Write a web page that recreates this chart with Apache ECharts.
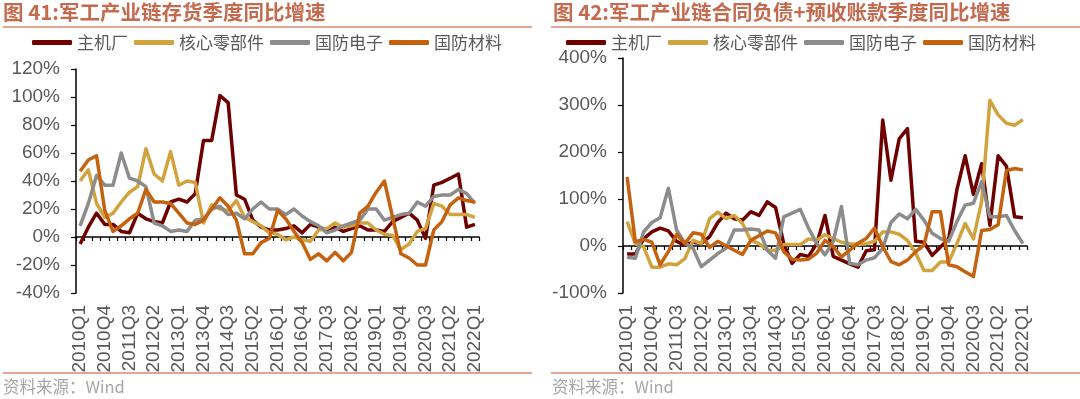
<!DOCTYPE html>
<html>
<head>
<meta charset="utf-8">
<script src="https://cdn.jsdelivr.net/npm/echarts@6/dist/echarts.min.js"></script>
<style>
html,body{margin:0;padding:0;background:#fff;}
#c{width:1080px;height:399px;}
</style>
</head>
<body>
<div id="c"></div>
<script>
var categories = ['2010Q1','2010Q2','2010Q3','2010Q4','2011Q1','2011Q2','2011Q3','2011Q4','2012Q1','2012Q2','2012Q3','2012Q4','2013Q1','2013Q2','2013Q3','2013Q4','2014Q1','2014Q2','2014Q3','2014Q4','2015Q1','2015Q2','2015Q3','2015Q4','2016Q1','2016Q2','2016Q3','2016Q4','2017Q1','2017Q2','2017Q3','2017Q4','2018Q1','2018Q2','2018Q3','2018Q4','2019Q1','2019Q2','2019Q3','2019Q4','2020Q1','2020Q2','2020Q3','2020Q4','2021Q1','2021Q2','2021Q3','2021Q4','2022Q1'];
var seriesNames = ['主机厂','核心零部件','国防电子','国防材料'];

// 图41 存货季度同比增速 (%)
var leftMain = [-5,7,17,9,9,4,3,17,13,11,10,25,27,25,31,69,69,101,96,30,27,12,7,5,5,6,8,3,9,7,5,7,4,6,8,5,5,4,11,14,17,12,-1,37,39,42,45,7,9];
var leftCore = [40,48,24,14,17,25,32,36,63,45,40,61,37,40,39,10,23,20,19,26,14,11,8,3,2,-2,0,-2,-3,5,6,10,7,8,10,10,5,2,1,-9,-5,4,6,24,22,16,16,16,14];
var leftElec = [8,24,44,37,37,60,42,40,36,10,8,4,5,4,12,13,20,22,16,17,13,20,25,20,20,16,20,15,11,8,3,5,8,10,12,20,20,12,14,16,17,25,22,29,30,30,34,31,24];
var leftMat  = [47,55,58,19,4,8,13,17,34,25,25,24,17,10,9,12,20,28,22,12,-12,-12,-4,-1,19,13,4,-4,-16,-12,-17,-11,-17,-11,17,22,32,40,14,-12,-15,-20,-20,5,11,23,28,26,25];

// 图42 合同负债+预收账款季度同比增速 (%)
var rightMain = [-17,-17,15,30,38,32,10,2,8,5,20,50,70,58,55,73,65,94,82,5,-37,-18,-22,5,65,-22,-30,-38,-45,-10,-8,268,140,228,250,10,8,-20,-2,15,120,192,110,175,44,192,170,62,60];
var rightCore = [52,5,-2,-45,-45,-38,-40,-27,12,5,58,72,58,65,48,12,5,-9,-9,3,3,3,15,12,24,16,8,5,3,5,10,30,30,25,12,-15,-52,-52,-34,-34,5,48,15,95,310,279,261,257,269];
var rightElec = [-24,-26,30,50,60,123,34,6,-5,-44,-30,-16,-5,34,34,36,34,-9,-26,62,70,78,38,5,-19,10,84,-37,-40,-30,-25,-5,50,68,58,78,55,27,16,10,52,87,91,137,62,62,65,33,5];
var rightMat  = [147,9,14,8,-40,-12,25,5,28,25,-3,10,0,-9,-18,12,22,32,28,-12,-28,-30,-28,-15,12,-1,-23,-9,6,16,38,-1,-33,-40,-30,-12,2,73,73,-40,-44,-55,-65,33,35,45,160,165,162];

var leftTicks = {min:-40, max:120, interval:20};
var rightTicks = {min:-100, max:400, interval:100};

var colors = ['#6E0000','#D0A33E','#8C8C8C','#C4620F'];
var FONT = 'Liberation Sans';
var CJK = 'Noto Sans CJK SC';
var AXC = '#000';
var LBL = '#595959';
var AXFS = 19;

function xAxes(grid){
  return [
    {gridIndex:grid, type:'category', data:categories, boundaryGap:true,
     axisLine:{onZero:true, lineStyle:{color:AXC, width:1.5}},
     axisTick:{show:true, interval:0, length:4, lineStyle:{color:AXC, width:1.2}},
     axisLabel:{show:false}, splitLine:{show:false}},
    {gridIndex:grid, type:'category', data:categories, boundaryGap:true, position:'bottom',
     axisLine:{show:false, onZero:false}, axisTick:{show:false},
     axisLabel:{show:true, interval:2, rotate:90, margin:12, fontSize:AXFS, color:LBL, fontFamily:FONT},
     splitLine:{show:false}}
  ];
}
function yAxis(grid, t){
  return {gridIndex:grid, type:'value', min:t.min, max:t.max, interval:t.interval,
    axisLine:{show:true, lineStyle:{color:AXC, width:1.5}},
    axisTick:{show:true, length:5, lineStyle:{color:AXC, width:1.2}},
    axisLabel:{formatter:'{value}%', fontSize:AXFS, color:LBL, fontFamily:FONT, margin:16},
    splitLine:{show:false}};
}
function mk(name, data, idx, grid){
  return {name:name, type:'line', data:data, xAxisIndex:grid*2, yAxisIndex:grid,
    symbol:'none', smooth:false, animation:false,
    lineStyle:{width:3.5, color:colors[idx], join:'round'},
    itemStyle:{color:colors[idx]}};
}
function legend(left){
  return {left:left, top:29, itemWidth:40, itemHeight:5, itemGap:6, icon:'roundRect',
    selectedMode:false, data:seriesNames,
    textStyle:{fontSize:17, color:LBL, fontFamily:CJK}};
}

var chart = echarts.init(document.getElementById('c'), null, {renderer:'canvas'});
chart.setOption({
  animation:false,
  backgroundColor:'#fff',
  color:colors,
  legend:[legend(27), legend(561)],
  grid:[
    {left:76, top:69, width:403, height:224, containLabel:false},
    {left:623, top:58, width:404, height:235, containLabel:false}
  ],
  xAxis: xAxes(0).concat(xAxes(1)),
  yAxis: [yAxis(0, leftTicks), yAxis(1, rightTicks)],
  series: [
    mk(seriesNames[0], leftMain, 0, 0), mk(seriesNames[1], leftCore, 1, 0),
    mk(seriesNames[2], leftElec, 2, 0), mk(seriesNames[3], leftMat, 3, 0),
    mk(seriesNames[0], rightMain, 0, 1), mk(seriesNames[1], rightCore, 1, 1),
    mk(seriesNames[2], rightElec, 2, 1), mk(seriesNames[3], rightMat, 3, 1)
  ],
  graphic:[
    {type:'text', left:3, top:2, style:{text:'图 41:军工产业链存货季度同比增速', fontSize:20.5, fontWeight:'bold', fontFamily:CJK, fill:'#C46A4E'}},
    {type:'text', left:553, top:2, style:{text:'图 42:军工产业链合同负债+预收账款季度同比增速', fontSize:20.5, fontWeight:'bold', fontFamily:CJK, fill:'#C46A4E'}},
    {type:'line', shape:{x1:3, y1:27, x2:532, y2:27}, style:{stroke:'#D98A6E', lineWidth:1.5}},
    {type:'line', shape:{x1:551, y1:27, x2:1080, y2:27}, style:{stroke:'#D98A6E', lineWidth:1.5}},
    {type:'line', shape:{x1:3, y1:373, x2:532, y2:373}, style:{stroke:'#D98A6E', lineWidth:1.5}},
    {type:'line', shape:{x1:551, y1:373, x2:1080, y2:373}, style:{stroke:'#D98A6E', lineWidth:1.5}},
    {type:'text', left:3, top:378, style:{text:'资料来源：Wind', fontSize:16.5, fontFamily:CJK, fill:'#A6A6A6'}},
    {type:'text', left:552, top:378, style:{text:'资料来源：Wind', fontSize:16.5, fontFamily:CJK, fill:'#A6A6A6'}}
  ]
});
</script>
</body>
</html>
